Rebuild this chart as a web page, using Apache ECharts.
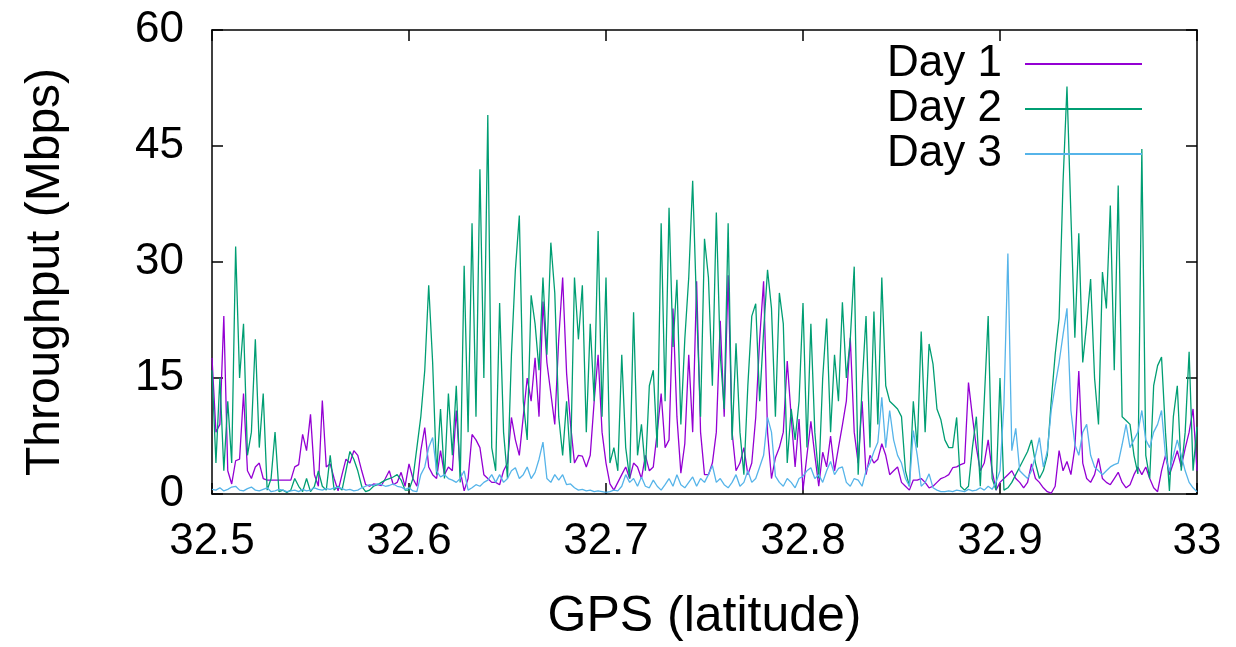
<!DOCTYPE html>
<html>
<head>
<meta charset="utf-8">
<script src="https://cdn.jsdelivr.net/npm/echarts@6/dist/echarts.min.js"></script>
<style>
html,body{margin:0;padding:0;background:#fff;}
#chart{width:1236px;height:647px;}
</style>
</head>
<body>
<div id="chart"></div>
<script>
const lat = [
32.500,32.502,32.504,32.506,32.508,32.510,32.512,32.514,32.516,32.518,
32.520,32.522,32.524,32.526,32.528,32.530,32.532,32.534,32.536,32.538,
32.540,32.542,32.544,32.546,32.548,32.550,32.552,32.554,32.556,32.558,
32.560,32.562,32.564,32.566,32.568,32.570,32.572,32.574,32.576,32.578,
32.580,32.582,32.584,32.586,32.588,32.590,32.592,32.594,32.596,32.598,
32.600,32.602,32.604,32.606,32.608,32.610,32.612,32.614,32.616,32.618,
32.620,32.622,32.624,32.626,32.628,32.630,32.632,32.634,32.636,32.638,
32.640,32.642,32.644,32.646,32.648,32.650,32.652,32.654,32.656,32.658,
32.660,32.662,32.664,32.666,32.668,32.670,32.672,32.674,32.676,32.678,
32.680,32.682,32.684,32.686,32.688,32.690,32.692,32.694,32.696,32.698,
32.700,32.702,32.704,32.706,32.708,32.710,32.712,32.714,32.716,32.718,
32.720,32.722,32.724,32.726,32.728,32.730,32.732,32.734,32.736,32.738,
32.740,32.742,32.744,32.746,32.748,32.750,32.752,32.754,32.756,32.758,
32.760,32.762,32.764,32.766,32.768,32.770,32.772,32.774,32.776,32.778,
32.780,32.782,32.784,32.786,32.788,32.790,32.792,32.794,32.796,32.798,
32.800,32.802,32.804,32.806,32.808,32.810,32.812,32.814,32.816,32.818,
32.820,32.822,32.824,32.826,32.828,32.830,32.832,32.834,32.836,32.838,
32.840,32.842,32.844,32.846,32.848,32.850,32.852,32.854,32.856,32.858,
32.860,32.862,32.864,32.866,32.868,32.870,32.872,32.874,32.876,32.878,
32.880,32.882,32.884,32.886,32.888,32.890,32.892,32.894,32.896,32.898,
32.900,32.902,32.904,32.906,32.908,32.910,32.912,32.914,32.916,32.918,
32.920,32.922,32.924,32.926,32.928,32.930,32.932,32.934,32.936,32.938,
32.940,32.942,32.944,32.946,32.948,32.950,32.952,32.954,32.956,32.958,
32.960,32.962,32.964,32.966,32.968,32.970,32.972,32.974,32.976,32.978,
32.980,32.982,32.984,32.986,32.988,32.990,32.992,32.994,32.996,32.998,
33.000
];

const day1 = [
17.6,8,9,23,3,1.3,4.3,4.5,13,3,
2,3.5,4,2,1.8,1.8,1.8,1.8,1.8,1.8,
1.8,3.5,3.8,7.7,5.6,10.3,2.5,1,12.1,3.5,
3.9,2,0.4,2.5,4.5,4,5.6,5,3,1.2,
1,1.3,1.2,1.1,2,3,1.2,1.5,2.8,1,
3.9,2,1,5.6,8.6,3.5,2.5,2,5.6,2.5,
3.5,3,10.8,3,0.4,2,7.7,7,6,2.5,
2,1.5,1.5,1.2,3,4,9.9,7,5,10,
15,12,17.6,10,24.9,17,13,9,20,28,
15.6,9,4,5,4.9,3.5,5,12,18,8,
4,1.3,0.5,1.5,2.5,3.5,2,4,3.5,2,
5,3,3.5,8,13,6,7,24,10,2.7,
6.5,18,8,27.5,8,2.5,2.5,4,8,22.4,
10,28.3,8,3,4,6,2.5,4,9.9,20,
27.5,8,2,4.7,6,8,17.2,10,3.5,9.7,
0.5,5,9.4,5,1,5.4,3.5,7.5,3,6,
8.9,12,20.2,8,4,12,2.5,5,4,4.5,
6.5,5,2.5,3,3.5,1.5,1,0.5,1.8,1.8,
2,1.5,0.8,1,1.5,2,2.2,2.5,3.4,3.5,
3.8,4,14.4,10,6,3,4,7,3,0.5,
1.5,2,2.5,3,2,1.5,0.8,1.5,3.9,2,
1.5,0.8,0.3,0.1,1,5.6,3,4.2,2.5,6,
15.9,4,2,1.5,2.5,4.6,2,1.5,1.2,2,
2.8,1.5,0.8,1.2,2.5,3.5,2.5,3.5,2,0.8,
0.3,3,5,2.5,4,5.6,3.5,5.9,8,11,
3
];

const day2 = [
16,4,15,3,12,4,32,15,22,5,
8,20,6,13,0.5,2,8,0.3,0.5,0.2,
0.5,2,1,0.3,2,0.3,1,3,1,0.5,
5,0.5,1,0.5,3,5.5,4.5,3,1,0.3,
0.5,1,1.2,1.5,1.8,2,2.2,2.5,1.8,0.5,
0.5,2,6,10,16,27,17,2.5,11,2,
13,5,14,1.5,29.5,8,35,10,42,15,
49,6,3,24.7,8,2,18,29,36,12,
7,25.7,22,16,28,18,32.5,26,10,5,
12,4,28,20,27,8,22,12,34,10,
28,4,6,3,18,6,2,23.5,5,9,
3,14,16,6,35,12,37,19,27.7,9,
20,28,40.5,24,10,33,28,14,36.4,18,
11,35,7,19.5,8,2.5,14,23,24.6,12,
21,29,24,10,26,22,4,11,7,12,
24.7,6,22,8,2,15,22.7,8,18,12,
24.8,15,20,29.4,2.5,14,23,6,23.6,9,
28,14,12,11.5,11,10,3,1,12,6,
21,8,19.4,16.8,11,9.6,7,6,6,9.9,
1,0.5,1,6,10,1,12,23,2,0.5,
15,0.5,0.8,1.5,2.5,3.5,4.5,5.5,7,4,
2,3,5,12,18,22.7,40.3,52.7,36,20.2,
33.7,17,22,27.8,15,9,28.7,24,37.3,16,
39.9,10,9.5,9,5,2.6,44.6,5,2,14,
16.6,17.7,8,0.4,10,14,3,8,18.4,3,
8.7
];

const day3 = [
0.6,0.5,0.8,0.4,0.6,0.9,1.0,0.5,0.4,0.7,
0.9,0.5,0.4,0.6,0.8,0.3,0.4,0.6,0.5,0.3,
0.4,0.5,0.3,0.6,0.4,0.5,0.8,0.6,0.5,0.7,
0.6,0.8,0.9,0.7,0.5,0.6,0.4,0.5,0.8,1.0,
1.2,1.1,1.3,1.2,1.0,1.1,1.3,1.0,0.9,0.6,
0.8,0.4,0.3,2.5,3.5,6,7.3,3,2.2,2.5,
2,1.8,1.5,2,3,0.5,0.8,1.2,1,1.5,
1.8,2.5,1.5,2.5,1.5,2,3,3.4,2,2.5,
3.5,2,2.8,4.5,6.7,2,1.5,2.5,1.8,2.5,
1.2,1.3,0.8,0.5,0.6,0.4,0.5,0.3,0.4,0.3,
0.2,0.3,0.5,0.4,1,2.5,1.5,2,1,2.2,
1,0.8,1.8,1,0.5,1.2,2,1,2.5,1.2,
0.8,1.5,2.2,1,2,1.5,2.5,3.7,1.5,2,
1.2,0.8,1.5,2.5,1,1.5,3,1.5,2,3.5,
5,9.9,8,2.3,1.5,1,2,1.5,0.8,2,
2.3,3,3.4,2,2.5,1.5,3,4.2,2.5,3.3,
3.5,1.5,1,2,1.8,1,3,4,5.5,6.7,
12.5,6,10.8,7,5,4,2,1,8.2,5,
1,1.5,2.6,0.8,0.5,0.3,0.3,0.4,0.3,0.5,
0.4,0.3,0.6,0.4,0.5,0.8,0.5,1,0.6,1.5,
3,11.6,31.1,5.6,8.5,3,2.5,2,3,5,
7.3,3.5,5.5,10.8,14,17,20.6,24,10.8,6.4,
5,8,9,5,3.5,3,2.5,3,3.5,3.8,
4,6.4,9,6,7,8,10.8,7,6,8,
9,10.8,5,3,5,7,5,3,1.5,0.8,
0.3
];

const seriesNames = ['Day 1', 'Day 2', 'Day 3'];
const xTickLabels = ['32.5', '32.6', '32.7', '32.8', '32.9', '33'];
const yTickLabels = ['0', '15', '30', '45', '60'];

const colors = ['#9400D3', '#009E73', '#56B4E9'];
const FONT = 'Liberation Sans, Arial, Helvetica, sans-serif';

function pairs(vals) { return lat.map((x, i) => [x, vals[i]]); }

const chart = echarts.init(document.getElementById('chart'), null, {renderer: 'canvas'});

const axisLineStyle = {show: true, onZero: false, lineStyle: {color: '#000', width: 1.5}};
const tickStyle = {show: true, inside: true, length: 11, lineStyle: {color: '#000', width: 1.5}};

chart.setOption({
  animation: false,
  backgroundColor: '#fff',
  grid: {left: 212, right: 39, top: 30, bottom: 150, show: false},
  legend: {
    orient: 'vertical',
    right: 89,
    top: 37,
    align: 'right',
    icon: 'rect',
    itemWidth: 117,
    itemHeight: 2,
    itemGap: 1,
    data: seriesNames,
    textStyle: {fontFamily: FONT, fontSize: 44, color: '#000', lineHeight: 43, padding: [0, 18, 0, 0]}
  },
  xAxis: [{
    type: 'value',
    min: 32.5, max: 33, interval: 0.1,
    position: 'bottom',
    name: 'GPS (latitude)',
    nameLocation: 'middle',
    nameGap: 98,
    nameTextStyle: {fontFamily: FONT, fontSize: 50, color: '#000'},
    axisLine: axisLineStyle,
    axisTick: tickStyle,
    splitLine: {show: false},
    axisLabel: {
      margin: 26,
      fontFamily: FONT, fontSize: 44, color: '#000',
      formatter: v => xTickLabels[Math.round((v - 32.5) / 0.1)]
    }
  }, {
    type: 'value',
    min: 32.5, max: 33, interval: 0.1,
    position: 'top',
    axisLine: axisLineStyle,
    axisTick: tickStyle,
    axisLabel: {show: false},
    splitLine: {show: false}
  }],
  yAxis: [{
    type: 'value',
    min: 0, max: 60, interval: 15,
    position: 'left',
    name: 'Throughput (Mbps)',
    nameLocation: 'middle',
    nameGap: 142,
    nameRotate: 90,
    nameTextStyle: {fontFamily: FONT, fontSize: 48, color: '#000', padding: [0, 20, 0, 0]},
    axisLine: axisLineStyle,
    axisTick: tickStyle,
    splitLine: {show: false},
    axisLabel: {
      margin: 28,
      fontFamily: FONT, fontSize: 44, color: '#000',
      formatter: v => yTickLabels[Math.round(v / 15)]
    }
  }, {
    type: 'value',
    min: 0, max: 60, interval: 15,
    position: 'right',
    axisLine: axisLineStyle,
    axisTick: tickStyle,
    axisLabel: {show: false},
    splitLine: {show: false}
  }],
  series: [day1, day2, day3].map((vals, k) => ({
    name: seriesNames[k],
    type: 'line',
    data: pairs(vals),
    showSymbol: false,
    symbol: 'none',
    color: colors[k],
    lineStyle: {color: colors[k], width: 1.3},
    itemStyle: {color: colors[k]},
    z: 2 + k
  }))
});
</script>
</body>
</html>
